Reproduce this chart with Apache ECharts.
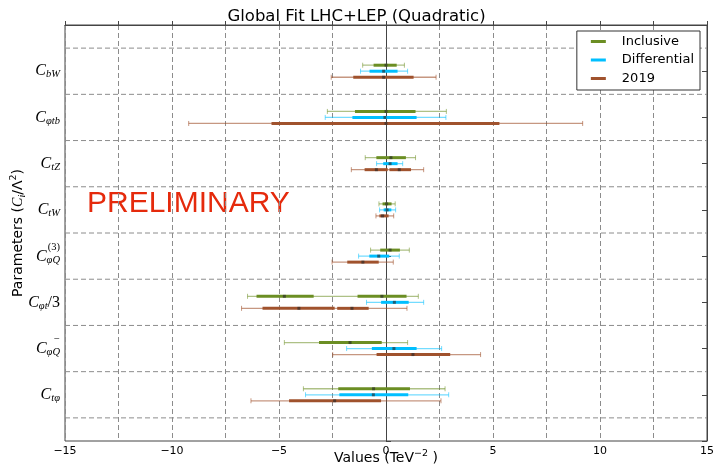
<!DOCTYPE html>
<html>
<head>
<meta charset="utf-8">
<script src="https://cdn.jsdelivr.net/npm/echarts@6/dist/echarts.min.js"></script>
<style>
html, body { margin: 0; padding: 0; background: #fff; }
#chart { width: 713px; height: 470px; }
</style>
</head>
<body>
<div id="chart"></div>
<script>
// Wilson coefficients shown on the vertical axis (top to bottom)
const categories = [
  { sym: 'C', sub: 'bW' },
  { sym: 'C', sub: 'φtb' },
  { sym: 'C', sub: 'tZ' },
  { sym: 'C', sub: 'tW' },
  { sym: 'C', sub: 'φQ', sup: '(3)' },
  { sym: 'C', sub: 'φt', tail: '/3' },
  { sym: 'C', sub: 'φQ', sup: '−' },
  { sym: 'C', sub: 'tφ' }
];

// x-axis tick values (TeV^-2)
const xTicks = [-15, -10, -5, 0, 5, 10, 15];

// Inclusive fit: 95% interval, 68% interval(s), best-fit point(s)
const inclusiveOuter = [[-1.09, 0.86], [-2.74, 2.82], [-0.97, 1.38], [-0.33, 0.43], [-0.72, 1.09], [-6.47, 1.51], [-4.75, 1.01], [-3.86, 2.76]];
const inclusiveInner = [[[-0.58, 0.50]], [[-1.45, 1.38]], [[-0.45, 0.93]], [[-0.16, 0.26]], [[-0.27, 0.65]], [[-6.05, -3.38], [-1.33, 0.96]], [[-3.13, -0.20]], [[-2.23, 1.12]]];
const inclusiveBest = [[0.0], [0.0], [0.23], [0.03], [0.19], [-4.75, -0.19], [-1.68], [-0.58]];

// Differential fit
const differentialOuter = [[-1.19, 1.01], [-2.84, 2.80], [-0.44, 0.78], [-0.30, 0.45], [-1.28, 0.62], [-0.91, 1.76], [-1.84, 2.60], [-3.76, 2.93]];
const differentialInner = [[[-0.77, 0.54]], [[-1.57, 1.43]], [[-0.13, 0.54]], [[-0.11, 0.25]], [[-0.78, 0.15]], [[-0.23, 1.06]], [[-0.66, 1.43]], [[-2.18, 1.04]]];
const differentialBest = [[-0.11], [-0.05], [0.19], [0.05], [-0.34], [0.39], [0.37], [-0.59]];

// 2019 fit
const fit2019Outer = [[-2.56, 2.34], [-9.22, 9.19], [-1.62, 1.76], [-0.47, 0.36], [-2.52, 0.34], [-6.75, 0.98], [-2.49, 4.42], [-6.31, 2.57]];
const fit2019Inner = [[[-1.53, 1.29]], [[-5.35, 5.30]], [[-1.00, 0.08], [0.16, 1.17]], [[-0.31, 0.12]], [[-1.81, -0.34]], [[-5.77, -2.40], [-2.28, -0.81]], [[-0.44, 3.00]], [[-4.53, -0.23]]];
const fit2019Best = [[-0.11], [0.0], [-0.45, 0.62], [-0.16], [-1.08], [-4.07, -1.59], [1.26], [-2.40]];

// horizontal separators between coefficients
const rowSeparators = [0.5, 1.5, 2.5, 3.5, 4.5, 5.5, 6.5, 7.5, 8.5];

const fits = [
  { name: 'Inclusive', outer: inclusiveOuter, inner: inclusiveInner, best: inclusiveBest,
    color: '#6b8e23', light: 'rgba(107,142,35,0.55)', shift: -0.13 },
  { name: 'Differential', outer: differentialOuter, inner: differentialInner, best: differentialBest,
    color: '#00bfff', light: 'rgba(0,191,255,0.55)', shift: 0 },
  { name: '2019', outer: fit2019Outer, inner: fit2019Inner, best: fit2019Best,
    color: '#a0522d', light: 'rgba(160,82,45,0.6)', shift: 0.13 }
];

function intervalRenderer(color, width, capHalf) {
  return function (params, api) {
    const y = api.value(2);
    const a = api.coord([api.value(0), y]);
    const b = api.coord([api.value(1), y]);
    const children = [{
      type: 'line',
      shape: { x1: a[0], y1: a[1], x2: b[0], y2: b[1] },
      style: { stroke: color, lineWidth: width }
    }];
    if (capHalf > 0) {
      [a, b].forEach(function (p) {
        children.push({
          type: 'line',
          shape: { x1: p[0], y1: p[1] - capHalf, x2: p[0], y2: p[1] + capHalf },
          style: { stroke: color, lineWidth: 1 }
        });
      });
    }
    return { type: 'group', children: children };
  };
}

const series = [];

// dashed separators drawn through the axis scales
series.push({
  type: 'custom',
  silent: true,
  z: 1,
  xAxisIndex: 0,
  yAxisIndex: 0,
  data: rowSeparators.map(function (v) { return [-15, 15, v]; }),
  encode: { x: [0, 1], y: 2 },
  renderItem: function (params, api) {
    const y = api.value(2);
    const a = api.coord([api.value(0), y]);
    const b = api.coord([api.value(1), y]);
    return {
      type: 'line',
      shape: { x1: a[0], y1: a[1], x2: b[0], y2: b[1] },
      style: { stroke: '#8c8c8c', lineWidth: 1, lineDash: [5, 3] }
    };
  }
});

fits.forEach(function (f) {
  const innerData = [];
  const outerData = [];
  const bestData = [];
  categories.forEach(function (c, i) {
    const y = i + 1 + f.shift;
    outerData.push([f.outer[i][0], f.outer[i][1], y]);
    f.inner[i].forEach(function (seg) { innerData.push([seg[0], seg[1], y]); });
    f.best[i].forEach(function (v) { bestData.push([v, y]); });
  });
  series.push({
    name: f.name, type: 'custom', z: 4, silent: true,
    itemStyle: { color: f.color },
    data: innerData, encode: { x: [0, 1], y: 2 },
    renderItem: intervalRenderer(f.color, 3, 0)
  });
  series.push({
    name: f.name, type: 'custom', z: 3, silent: true,
    itemStyle: { color: f.color },
    data: outerData, encode: { x: [0, 1], y: 2 },
    renderItem: intervalRenderer(f.light, 1.3, 2.5)
  });
  series.push({
    name: f.name, type: 'scatter', z: 5, silent: true,
    symbol: 'rect', symbolSize: 3,
    itemStyle: { color: 'rgba(40,40,40,0.8)' },
    data: bestData
  });
});

function coefficientLabel(v) {
  const idx = Math.round(v) - 1;
  if (Math.abs(v - Math.round(v)) > 1e-6 || idx < 0 || idx >= categories.length) return '';
  const c = categories[idx];
  let s = '';
  if (c.sup) s += '{sup|' + c.sup + '}\n';
  s += '{c|' + c.sym + '}{sub|' + c.sub + '}';
  if (c.tail) s += '{tail|' + c.tail + '}';
  return s;
}

const serifItalic = { fontFamily: 'Liberation Serif', fontStyle: 'italic', color: '#000' };

const chart = echarts.init(document.getElementById('chart'), null, { renderer: 'canvas' });
chart.setOption({
  animation: false,
  backgroundColor: '#fff',
  title: {
    text: 'Global Fit LHC+LEP (Quadratic)',
    left: 'center',
    top: 3,
    textStyle: { fontFamily: 'DejaVu Sans', fontSize: 16.5, fontWeight: 'normal', color: '#000' }
  },
  legend: {
    orient: 'vertical',
    right: 13,
    top: 31,
    backgroundColor: '#fff',
    borderColor: '#333',
    borderWidth: 1,
    borderRadius: 0,
    padding: [4, 6, 5, 14],
    itemWidth: 15,
    itemHeight: 3,
    itemGap: 5.5,
    icon: 'rect',
    data: ['Inclusive', 'Differential', '2019'],
    textStyle: { fontFamily: 'DejaVu Sans', fontSize: 13, color: '#000', padding: [0, 0, 0, 11] }
  },
  grid: {
    left: 65, right: 6, top: 25, bottom: 29,
    containLabel: false,
    outerBoundsMode: 'none',
    show: true, borderColor: '#444', borderWidth: 1, backgroundColor: 'transparent'
  },
  xAxis: {
    type: 'value',
    min: -15, max: 15, interval: 2.5,
    axisLine: { show: true, lineStyle: { color: '#444' } },
    axisTick: { show: true, inside: true, length: 4, lineStyle: { color: '#444' } },
    splitLine: { show: true, lineStyle: { color: '#8c8c8c', type: [5, 3], width: 1 } },
    axisLabel: {
      margin: 5,
      fontFamily: 'DejaVu Sans', fontSize: 11, color: '#000',
      formatter: function (v) {
        if (xTicks.indexOf(v) < 0) return '';
        return v < 0 ? '−' + Math.abs(v) : String(v);
      }
    },
    name: '{t|Values (TeV}{p|−2}{t| )}',
    nameLocation: 'middle',
    nameGap: 8,
    nameMoveOverlap: false,
    nameTextStyle: {
      rich: {
        t: { fontFamily: 'DejaVu Sans', fontSize: 14, lineHeight: 18, color: '#000' },
        p: { fontFamily: 'DejaVu Sans', fontSize: 9.5, lineHeight: 10, verticalAlign: 'top', color: '#000' }
      }
    }
  },
  yAxis: [
    {
      type: 'value',
      min: 0, max: 9, interval: 1, inverse: true,
      axisLine: { show: true, lineStyle: { color: '#444' } },
      axisTick: { show: true, inside: true, length: 5, lineStyle: { color: '#444' } },
      splitLine: { show: false },
      axisLabel: {
        margin: 5,
        formatter: coefficientLabel,
        rich: {
          c: Object.assign({ fontSize: 16, lineHeight: 18 }, serifItalic),
          sub: Object.assign({ fontSize: 10.5, lineHeight: 10, verticalAlign: 'bottom' }, serifItalic),
          sup: { fontFamily: 'Liberation Serif', fontSize: 10.5, lineHeight: 1, color: '#000' },
          tail: { fontFamily: 'Liberation Serif', fontSize: 16, lineHeight: 18, color: '#000' }
        }
      },
      name: '{t|Parameters (}{c|C}{s|i}{t|/Λ}{p|2}{t|)}',
      nameLocation: 'middle',
      nameRotate: 90,
      nameGap: 38,
      nameMoveOverlap: false,
      nameTextStyle: {
        rich: {
          t: { fontFamily: 'DejaVu Sans', fontSize: 14, lineHeight: 18, color: '#000' },
          c: Object.assign({ fontSize: 14, lineHeight: 18 }, serifItalic),
          s: Object.assign({ fontSize: 10, lineHeight: 10, verticalAlign: 'bottom' }, serifItalic),
          p: { fontFamily: 'DejaVu Sans', fontSize: 9.5, lineHeight: 10, verticalAlign: 'top', color: '#000' }
        }
      }
    },
    {
      type: 'value',
      position: 'right',
      min: 0, max: 9, interval: 1, inverse: true,
      axisLine: { show: true, lineStyle: { color: '#444' } },
      axisTick: { show: true, inside: true, length: 5, lineStyle: { color: '#444' } },
      splitLine: { show: false },
      axisLabel: { show: false }
    }
  ],
  graphic: [{
    type: 'text',
    left: 87,
    top: 189,
    silent: true,
    style: {
      text: 'PRELIMINARY',
      fill: '#e52a0c',
      font: '30px "Liberation Sans", Arial, sans-serif'
    }
  }],
  series: series
});
</script>
</body>
</html>
